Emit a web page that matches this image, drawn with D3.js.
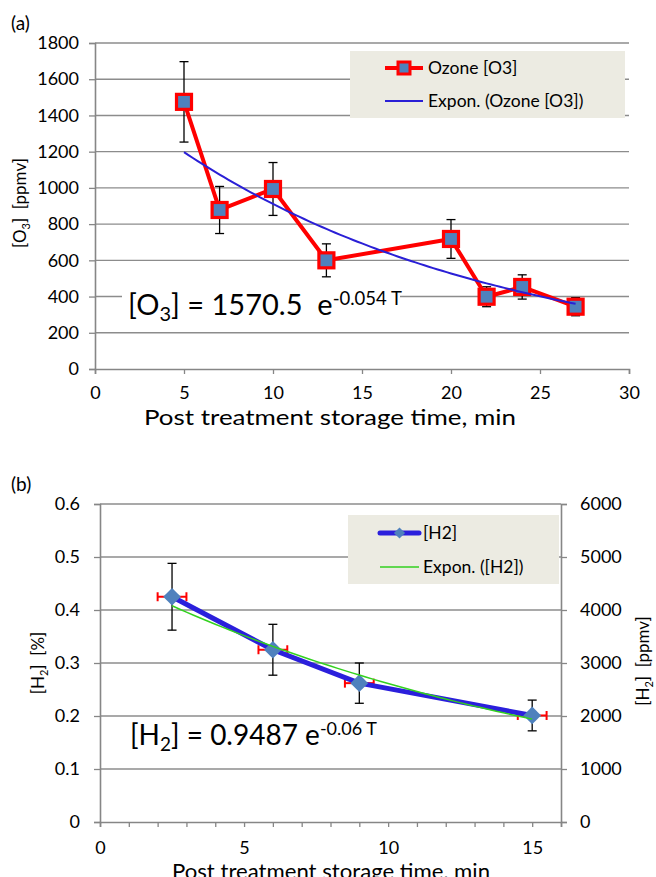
<!DOCTYPE html>
<html>
<head>
<meta charset="utf-8">
<script src="https://cdn.jsdelivr.net/npm/d3@7"></script>
<style>
  html, body { margin: 0; padding: 0; background: #fff; }
  svg { display: block; font-family: Lato, "Open Sans", sans-serif; }
  text { white-space: pre; }
</style>
</head>
<body>
<svg id="chart" width="656" height="877"></svg>
<script>
// ---------------- DATA ----------------
// Panel (a): ozone
const timeA = [5, 7, 10, 13, 20, 22, 24, 27];
const ozone = [1475, 878, 994, 600, 718, 399, 453, 344];
const ozoneErr = [222, 130, 146, 91, 107, 55, 67, 50];
const xTicksA = [0, 5, 10, 15, 20, 25, 30];
const yTicksA = [0, 200, 400, 600, 800, 1000, 1200, 1400, 1600, 1800];

// Panel (b): hydrogen
const timeB = [2.5, 6, 9, 15];
const h2 = [0.425, 0.325, 0.262, 0.201];
const h2Err = [0.063, 0.048, 0.038, 0.029];
const timeErrB = [0.5, 0.5, 0.5, 0.5];
const xTicksB = [0, 5, 10, 15];
const yTicksB = [0, 0.1, 0.2, 0.3, 0.4, 0.5, 0.6];
const yTicksB2 = [0, 1000, 2000, 3000, 4000, 5000, 6000];

// ---------------- HELPERS ----------------
const svg = d3.select("#chart");
const GRID = "#8c8c8c", AXIS = "#868686";
const TICK_FONT = 18;

// Exponential least-squares fit on ln(y) (Excel "Expon." trendline)
function expFit(xs, ys) {
  const n = xs.length;
  const ly = ys.map(Math.log);
  const mx = d3.mean(xs), my = d3.mean(ly);
  let sxy = 0, sxx = 0;
  for (let i = 0; i < n; i++) { sxy += (xs[i] - mx) * (ly[i] - my); sxx += (xs[i] - mx) ** 2; }
  const b = sxy / sxx, a = Math.exp(my - b * mx);
  return t => a * Math.exp(b * t);
}

function styleAxis(g, size) {
  g.select(".domain").attr("stroke", AXIS).attr("stroke-width", 1.6);
  g.selectAll(".tick line").attr("stroke", AXIS).attr("stroke-width", 1.3);
  g.selectAll(".tick text").attr("fill", "#000").style("font-size", size + "px").style("font-family", "Lato, sans-serif");
}

// ================= PANEL (a) =================
const xA = d3.scaleLinear().domain([0, 30]).range([95, 629]);
const yA = d3.scaleLinear().domain([0, 1800]).range([369, 43]);
const gA = svg.append("g");

// gridlines
gA.append("g").selectAll("line").data(yTicksA.filter(d => d > 0)).join("line")
  .attr("x1", xA(0)).attr("x2", xA(30)).attr("y1", d => yA(d)).attr("y2", d => yA(d))
  .attr("stroke", GRID).attr("stroke-width", 1.4);

// axes
gA.append("g").attr("transform", `translate(${xA(0)},0)`)
  .call(d3.axisLeft(yA).tickValues(yTicksA).tickSize(6).tickPadding(10).tickFormat(d3.format("d")))
  .call(g => styleAxis(g, TICK_FONT));
gA.append("g").attr("transform", `translate(0,${yA(0)})`)
  .call(d3.axisBottom(xA).tickValues(xTicksA).tickSize(5).tickPadding(12).tickFormat(d3.format("d")))
  .call(g => styleAxis(g, TICK_FONT));

// equation label with white box
gA.append("rect").attr("x", 122).attr("y", 284).attr("width", 278).attr("height", 38).attr("fill", "#fff");
const eqA = gA.append("text").attr("x", 128).attr("y", 315).style("font-size", "29px").attr("fill", "#000");
eqA.append("tspan").text("[O");
eqA.append("tspan").text("3").style("font-size", "20px").attr("dy", 6);
eqA.append("tspan").text("] = 1570.5  e").attr("dy", -6);
eqA.append("tspan").text("-0.054 T").style("font-size", "18.5px").attr("dy", -10);

// error bars
const errA = gA.append("g").attr("stroke", "#000").attr("stroke-width", 1.3);
timeA.forEach((t, i) => {
  const x = xA(t), y1 = yA(ozone[i] + ozoneErr[i]), y2 = yA(ozone[i] - ozoneErr[i]);
  errA.append("line").attr("x1", x).attr("x2", x).attr("y1", y1).attr("y2", y2);
  errA.append("line").attr("x1", x - 4.5).attr("x2", x + 4.5).attr("y1", y1).attr("y2", y1);
  errA.append("line").attr("x1", x - 4.5).attr("x2", x + 4.5).attr("y1", y2).attr("y2", y2);
});

// data line
const lineA = d3.line().x(d => xA(d[0])).y(d => yA(d[1]));
gA.append("path").datum(timeA.map((t, i) => [t, ozone[i]]))
  .attr("d", lineA).attr("fill", "none").attr("stroke", "#ff0000").attr("stroke-width", 4).attr("stroke-linejoin", "round");

// markers
gA.append("g").selectAll("rect").data(timeA.map((t, i) => [t, ozone[i]])).join("rect")
  .attr("x", d => xA(d[0]) - 7.5).attr("y", d => yA(d[1]) - 7.5).attr("width", 15).attr("height", 15)
  .attr("fill", "#4f81bd").attr("stroke", "#ff0000").attr("stroke-width", 3.2);

// trendline
const fitA = expFit(timeA, ozone);
const trendTA = d3.range(timeA[0], timeA[timeA.length - 1] + 0.001, 0.25);
gA.append("path").datum(trendTA.map(t => [t, fitA(t)]))
  .attr("d", lineA).attr("fill", "none").attr("stroke", "#2a1fd6").attr("stroke-width", 2);

// legend (a)
const legA = gA.append("g");
legA.append("rect").attr("x", 350).attr("y", 51).attr("width", 275).attr("height", 67).attr("fill", "#ecebe2");
legA.append("line").attr("x1", 385).attr("x2", 423).attr("y1", 68).attr("y2", 68).attr("stroke", "#ff0000").attr("stroke-width", 4);
legA.append("rect").attr("x", 398).attr("y", 62).attr("width", 12).attr("height", 12)
  .attr("fill", "#4f81bd").attr("stroke", "#ff0000").attr("stroke-width", 3);
legA.append("text").attr("x", 428).attr("y", 74).style("font-size", "17.5px").text("Ozone [O3]");
legA.append("line").attr("x1", 385).attr("x2", 423).attr("y1", 101).attr("y2", 101).attr("stroke", "#2a1fd6").attr("stroke-width", 2);
legA.append("text").attr("x", 428).attr("y", 107).style("font-size", "17.5px").text("Expon. (Ozone [O3])");

// titles (a)
svg.append("text").attr("x", 11).attr("y", 30).style("font-size", "19px").text("(a)");
svg.append("text").attr("x", 330).attr("y", 425).attr("text-anchor", "middle").style("font-size", "22px")
  .attr("textLength", 372).attr("lengthAdjust", "spacingAndGlyphs")
  .text("Post treatment storage time, min");
const ytA = svg.append("text").attr("transform", "translate(26,203) rotate(-90)").attr("text-anchor", "middle").style("font-size", "17px");
ytA.append("tspan").text("[O");
ytA.append("tspan").text("3").style("font-size", "11px").attr("dy", 4);
ytA.append("tspan").text("]  [ppmv]").attr("dy", -4);

// ================= PANEL (b) =================
const xB = d3.scaleLinear().domain([0, 16]).range([100, 561]);
const yB = d3.scaleLinear().domain([0, 0.6]).range([822, 504]);
const yB2 = d3.scaleLinear().domain([0, 6000]).range([822, 504]);
const gB = svg.append("g");

gB.append("g").selectAll("line").data(yTicksB.filter(d => d > 0)).join("line")
  .attr("x1", xB(0)).attr("x2", xB(16)).attr("y1", d => yB(d)).attr("y2", d => yB(d))
  .attr("stroke", GRID).attr("stroke-width", 1.4);

gB.append("g").attr("transform", `translate(${xB(0)},0)`)
  .call(d3.axisLeft(yB).tickValues(yTicksB).tickSize(6).tickPadding(14).tickFormat(d => d === 0 ? "0" : d3.format(".1f")(d)))
  .call(g => styleAxis(g, TICK_FONT));
gB.append("g").attr("transform", `translate(${xB(16)},0)`)
  .call(d3.axisRight(yB2).tickValues(yTicksB2).tickSize(6).tickPadding(13).tickFormat(d3.format("d")))
  .call(g => styleAxis(g, TICK_FONT));
gB.append("g").attr("transform", `translate(0,${yB(0)})`)
  .call(d3.axisBottom(xB).ticks(16).tickSize(5).tickPadding(14).tickFormat(d => xTicksB.includes(d) ? d3.format("d")(d) : ""))
  .call(g => styleAxis(g, TICK_FONT));

// equation (b)
const eqB = gB.append("text").attr("x", 130).attr("y", 745).style("font-size", "28px").attr("fill", "#000");
eqB.append("tspan").text("[H");
eqB.append("tspan").text("2").style("font-size", "19px").attr("dy", 6);
eqB.append("tspan").text("] = 0.9487 e").attr("dy", -6);
eqB.append("tspan").text("-0.06 T").style("font-size", "18px").attr("dy", -10);

// error bars (vertical black, horizontal red)
const errB = gB.append("g");
timeB.forEach((t, i) => {
  const x = xB(t), y1 = yB(h2[i] + h2Err[i]), y2 = yB(h2[i] - h2Err[i]);
  errB.append("line").attr("x1", x).attr("x2", x).attr("y1", y1).attr("y2", y2).attr("stroke", "#000").attr("stroke-width", 1.3);
  errB.append("line").attr("x1", x - 4.5).attr("x2", x + 4.5).attr("y1", y1).attr("y2", y1).attr("stroke", "#000").attr("stroke-width", 1.3);
  errB.append("line").attr("x1", x - 4.5).attr("x2", x + 4.5).attr("y1", y2).attr("y2", y2).attr("stroke", "#000").attr("stroke-width", 1.3);
  const y = yB(h2[i]), xl = xB(t - timeErrB[i]), xr = xB(t + timeErrB[i]);
  errB.append("line").attr("x1", xl).attr("x2", xr).attr("y1", y).attr("y2", y).attr("stroke", "#ff0000").attr("stroke-width", 2);
  errB.append("line").attr("x1", xl).attr("x2", xl).attr("y1", y - 4.5).attr("y2", y + 4.5).attr("stroke", "#ff0000").attr("stroke-width", 2);
  errB.append("line").attr("x1", xr).attr("x2", xr).attr("y1", y - 4.5).attr("y2", y + 4.5).attr("stroke", "#ff0000").attr("stroke-width", 2);
});

const lineB = d3.line().x(d => xB(d[0])).y(d => yB(d[1]));
gB.append("path").datum(timeB.map((t, i) => [t, h2[i]]))
  .attr("d", lineB).attr("fill", "none").attr("stroke", "#2b1fdc").attr("stroke-width", 5).attr("stroke-linejoin", "round");

const diamond = d3.symbol().type(d3.symbolDiamond2).size(200);
gB.append("g").selectAll("path").data(timeB.map((t, i) => [t, h2[i]])).join("path")
  .attr("transform", d => `translate(${xB(d[0])},${yB(d[1])})`).attr("d", diamond).attr("fill", "#4f81bd");

const fitB = expFit(timeB, h2);
const trendTB = d3.range(timeB[0], timeB[timeB.length - 1] + 0.001, 0.25);
gB.append("path").datum(trendTB.map(t => [t, fitB(t)]))
  .attr("d", lineB).attr("fill", "none").attr("stroke", "#33d11f").attr("stroke-width", 1.5);

// legend (b)
const legB = gB.append("g");
legB.append("rect").attr("x", 348).attr("y", 515).attr("width", 211).attr("height", 69).attr("fill", "#ecebe2");
legB.append("line").attr("x1", 380).attr("x2", 419).attr("y1", 533).attr("y2", 533).attr("stroke", "#2b1fdc").attr("stroke-width", 5).attr("stroke-linecap", "round");
legB.append("path").attr("transform", "translate(399.5,533)").attr("d", d3.symbol().type(d3.symbolDiamond2).size(80)).attr("fill", "#4f81bd");
legB.append("text").attr("x", 423).attr("y", 539).style("font-size", "17.5px").text("[H2]");
legB.append("line").attr("x1", 380).attr("x2", 419).attr("y1", 567).attr("y2", 567).attr("stroke", "#33d11f").attr("stroke-width", 1.5);
legB.append("text").attr("x", 423).attr("y", 573).style("font-size", "17.5px").text("Expon. ([H2])");

// titles (b)
svg.append("text").attr("x", 11).attr("y", 491).style("font-size", "19px").text("(b)");
svg.append("text").attr("x", 331).attr("y", 879).attr("text-anchor", "middle").style("font-size", "22px")
  .attr("textLength", 318).attr("lengthAdjust", "spacingAndGlyphs")
  .text("Post treatment storage time, min");
const ytB = svg.append("text").attr("transform", "translate(44,663) rotate(-90)").attr("text-anchor", "middle").style("font-size", "17px");
ytB.append("tspan").text("[H");
ytB.append("tspan").text("2").style("font-size", "11px").attr("dy", 4);
ytB.append("tspan").text("]  [%]").attr("dy", -4);
const ytB2 = svg.append("text").attr("transform", "translate(649,661) rotate(-90)").attr("text-anchor", "middle").style("font-size", "17px");
ytB2.append("tspan").text("[H");
ytB2.append("tspan").text("2").style("font-size", "11px").attr("dy", 4);
ytB2.append("tspan").text("]  [ppmv]").attr("dy", -4);
</script>
</body>
</html>
